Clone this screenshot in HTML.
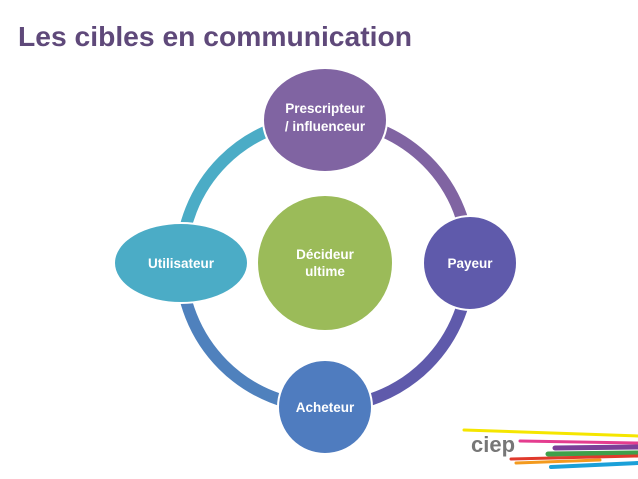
<!DOCTYPE html>
<html><head><meta charset="utf-8"><style>
body{margin:0;width:638px;height:479px;background:#fff;overflow:hidden;font-family:"Liberation Sans",sans-serif}
svg{position:absolute;left:0;top:0}
</style></head><body>
<svg width="638" height="479">
<text x="18" y="46" font-size="28" font-weight="bold" fill="#5f497a" textLength="394" lengthAdjust="spacingAndGlyphs">Les cibles en communication</text>
<g fill="none" stroke-width="12">
<path d="M181 263 A144 144 0 0 1 325 119" stroke="#4bacc6"/>
<path d="M325 119 A144 144 0 0 1 469 263" stroke="#8064a2"/>
<path d="M469 263 A144 144 0 0 1 325 407" stroke="#5f5aab"/>
<path d="M325 407 A144 144 0 0 1 181 263" stroke="#4f81bd"/>
</g>
<g font-weight="bold" font-size="13.5" fill="#fff" text-anchor="middle" font-family="Liberation Sans, DejaVu Sans, sans-serif">
<ellipse cx="325" cy="120" rx="62" ry="52" fill="#8064a2" stroke="#fff" stroke-width="2"/>
<text x="325" y="113">Prescripteur</text>
<text x="325" y="131">/ influenceur</text>
<circle cx="470" cy="263" r="47" fill="#5f5aab" stroke="#fff" stroke-width="2"/>
<text x="470" y="268">Payeur</text>
<circle cx="325" cy="407" r="47" fill="#4f7cbf" stroke="#fff" stroke-width="2"/>
<text x="325" y="412">Acheteur</text>
<ellipse cx="181" cy="263" rx="67" ry="40" fill="#4bacc6" stroke="#fff" stroke-width="2"/>
<text x="181" y="268">Utilisateur</text>
<circle cx="325" cy="263" r="67" fill="#9bbb59"/>
<text x="325" y="259">Décideur</text>
<text x="325" y="276">ultime</text>
</g>
<g stroke-linecap="round">
<line x1="464" y1="430" x2="638" y2="436" stroke="#f5e600" stroke-width="3"/>
<line x1="520" y1="441" x2="638" y2="443" stroke="#e43d8f" stroke-width="3"/>
<line x1="555" y1="448" x2="638" y2="447" stroke="#7b3f98" stroke-width="5"/>
<line x1="548" y1="454" x2="638" y2="453" stroke="#3ea04a" stroke-width="5"/>
<line x1="511" y1="459" x2="638" y2="456" stroke="#e03a2c" stroke-width="3"/>
<line x1="516" y1="463" x2="600" y2="460" stroke="#f39a1e" stroke-width="3"/>
<line x1="551" y1="467" x2="638" y2="463" stroke="#1aa0d8" stroke-width="4"/>
<text x="471" y="452" font-size="22" font-weight="bold" fill="#777">ciep</text>
</g>
</svg>
</body></html>
